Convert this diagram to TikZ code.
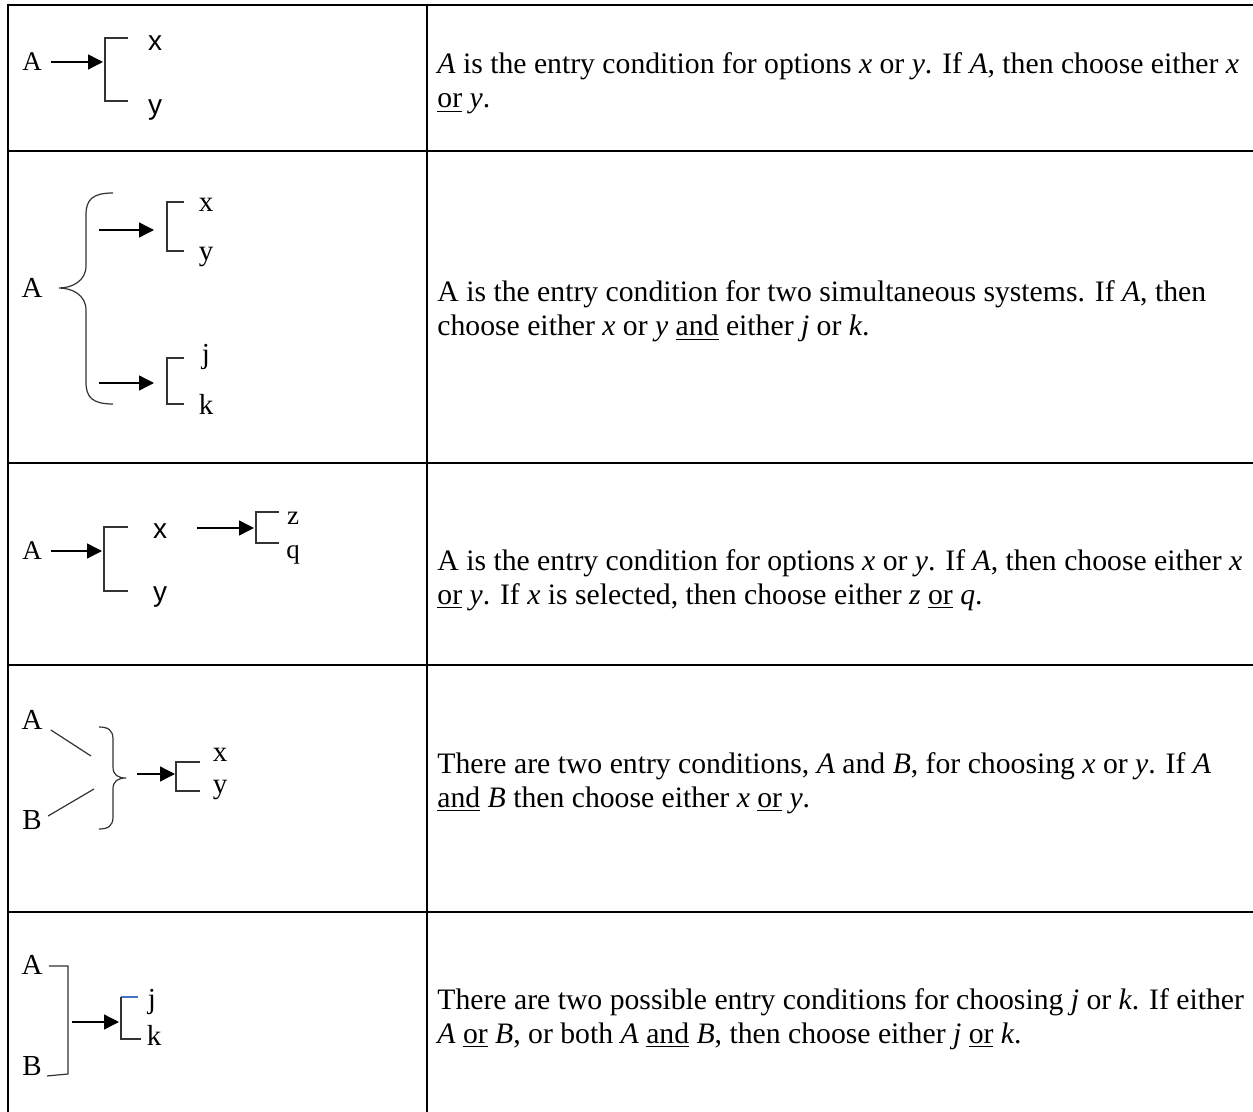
\documentclass[tikz,border=0pt]{standalone}
\usepackage{fontspec}
\setmainfont{Liberation Serif}
\newfontfamily\labsans{Liberation Sans}
\usetikzlibrary{arrows.meta}
\definecolor{tickblue}{RGB}{68,114,196}
\newcommand\uln[1]{\underline{#1}}
\tikzset{
  grid/.style={line width=1.25pt, black},
  wire/.style={line width=0.6pt, black!80},
  arr/.style={line width=0.7pt, black, -{Triangle[length=7.5pt,width=7.5pt]}},
  lab/.style={inner sep=0pt, font=\fontsize{13.5}{16}\selectfont},
  biglab/.style={inner sep=0pt, font=\fontsize{14.5}{17}\selectfont},
  sanslab/.style={inner sep=0pt, font=\labsans\fontsize{14}{16}\selectfont},
  desc/.style={anchor=base west, inner sep=0pt, font=\fontsize{14.85}{17}\selectfont},
}
\begin{document}
\begin{tikzpicture}[x=0.5pt,y=-0.5pt]
\useasboundingbox (0,0) rectangle (1253,1112);
\clip (0,0) rectangle (1253,1112);
\fill[white] (0,0) rectangle (1253,1112);

% table rules
\draw[grid] (7,5) -- (1260,5);
\draw[grid] (7,151) -- (1260,151);
\draw[grid] (7,463) -- (1260,463);
\draw[grid] (7,665) -- (1260,665);
\draw[grid] (7,912) -- (1260,912);
\draw[grid] (8,4) -- (8,1120);
\draw[grid] (427,4) -- (427,1120);

% ---- row 1: simple choice
\node[lab] (a1) at (32,62) {A};
\coordinate (b1) at (103,62);
\draw[wire] (128,38) -- (105,38) -- (105,101) -- (128,101);
\node[sanslab] (x1) at (155,43) {x};
\node[sanslab] (y1) at (155,110) {y};
\draw[arr] (a1.east) ++(9,0) -- (b1);
\node[desc] (t1a) at (437,74) {\textit{A} is the entry condition for options \textit{x} or \textit{y}. If \textit{A}, then choose either \textit{x}};
\node[desc] (t1b) at (437,108) {\uln{or} \textit{y}.};

% ---- row 2: simultaneous systems
\node[biglab] (a2) at (32,288) {A};
\draw[wire] (113,193) .. controls (92,193) and (86,200) .. (86,215) -- (86,266)
  .. controls (86,281) and (72,288) .. (59,288)
  .. controls (72,288) and (86,295) .. (86,310) -- (86,382)
  .. controls (86,397) and (92,404) .. (113,404);
\coordinate (s2a) at (99,230);
\coordinate (b2a) at (154,230);
\coordinate (s2b) at (99,383);
\coordinate (b2b) at (154,383);
\draw[arr] (s2a) -- (b2a);
\draw[arr] (s2b) -- (b2b);
\draw[wire] (184,202) -- (167,202) -- (167,251) -- (184,251);
\draw[wire] (184,358) -- (167,358) -- (167,404) -- (184,404);
\node[biglab] (x2) at (206,205) {x};
\node[biglab] (y2) at (206,257) {y};
\node[biglab] (j2) at (206,357) {j};
\node[biglab] (k2) at (206,404) {k};
\node[desc] (t2a) at (437,302) {A is the entry condition for two simultaneous systems. If \textit{A}, then};
\node[desc] (t2b) at (437,336) {choose either \textit{x} or \textit{y} \uln{and} either \textit{j} or \textit{k}.};

% ---- row 3: choice with a dependent choice
\node[lab] (a3) at (32,551) {A};
\coordinate (b3) at (102,551);
\draw[arr] (a3.east) ++(9,0) -- (b3);
\draw[wire] (128,527) -- (104,527) -- (104,591) -- (128,591);
\node[sanslab] (x3) at (160,531) {x};
\node[sanslab] (y3) at (160,597) {y};
\coordinate (b3b) at (254,528);
\draw[arr] (x3.east) ++(30,-3) -- (b3b);
\draw[wire] (279,512) -- (256,512) -- (256,543) -- (279,543);
\node[lab] (z3) at (293,518) {z};
\node[lab] (q3) at (293,555) {q};
\node[desc] (t3a) at (437,570) {A is the entry condition for options \textit{x} or \textit{y}. If \textit{A}, then choose either \textit{x}};
\node[desc] (t3b) at (437,604) {\uln{or} \textit{y}. If \textit{x} is selected, then choose either \textit{z} \uln{or} \textit{q}.};

% ---- row 4: conjunctive entry
\node[biglab] (a4) at (32,720) {A};
\node[biglab] (b4) at (32,820) {B};
\coordinate (m4a) at (91,756);
\coordinate (m4b) at (94,789);
\draw[wire] (a4.east) ++(8,10) -- (m4a);
\draw[wire] (b4.east) ++(6,-4) -- (m4b);
\draw[wire] (99,727) .. controls (108,727) and (113,730) .. (113,739) -- (113,767)
  .. controls (113,775) and (118,778) .. (126,778)
  .. controls (118,778) and (113,781) .. (113,789) -- (113,817)
  .. controls (113,826) and (108,829) .. (99,829);
\coordinate (s4) at (137,774);
\coordinate (e4) at (175,774);
\draw[arr] (s4) -- (e4);
\draw[wire] (200,762) -- (176,762) -- (176,791) -- (200,791);
\node[biglab] (x4) at (220,755) {x};
\node[biglab] (y4) at (220,790) {y};
\node[desc] (t4a) at (437,773) {There are two entry conditions, \textit{A} and \textit{B}, for choosing \textit{x} or \textit{y}. If \textit{A}};
\node[desc] (t4b) at (437,807) {\uln{and} \textit{B} then choose either \textit{x} \uln{or} \textit{y}.};

% ---- row 5: disjunctive entry
\node[biglab] (a5) at (32,965) {A};
\node[biglab] (b5) at (32,1066) {B};
\draw[wire] (a5.east) ++(6,1) -- (68,966) -- (68,1074) -- ([xshift=2.5pt]b5.south east);
\coordinate (s5) at (72,1022);
\coordinate (e5) at (119,1022);
\draw[arr] (s5) -- (e5);
\draw[wire, tickblue] (138,997) -- (121,997);
\draw[wire] (121,997) -- (121,1039) -- (141,1039);
\node[biglab] (j5) at (152,1002) {j};
\node[biglab] (k5) at (154,1035) {k};
\node[desc] (t5a) at (437,1009) {There are two possible entry conditions for choosing \textit{j} or \textit{k}. If either};
\node[desc] (t5b) at (437,1043) {\textit{A} \uln{or} \textit{B}, or both \textit{A} \uln{and} \textit{B}, then choose either \textit{j} \uln{or} \textit{k}.};
\end{tikzpicture}
\end{document}
